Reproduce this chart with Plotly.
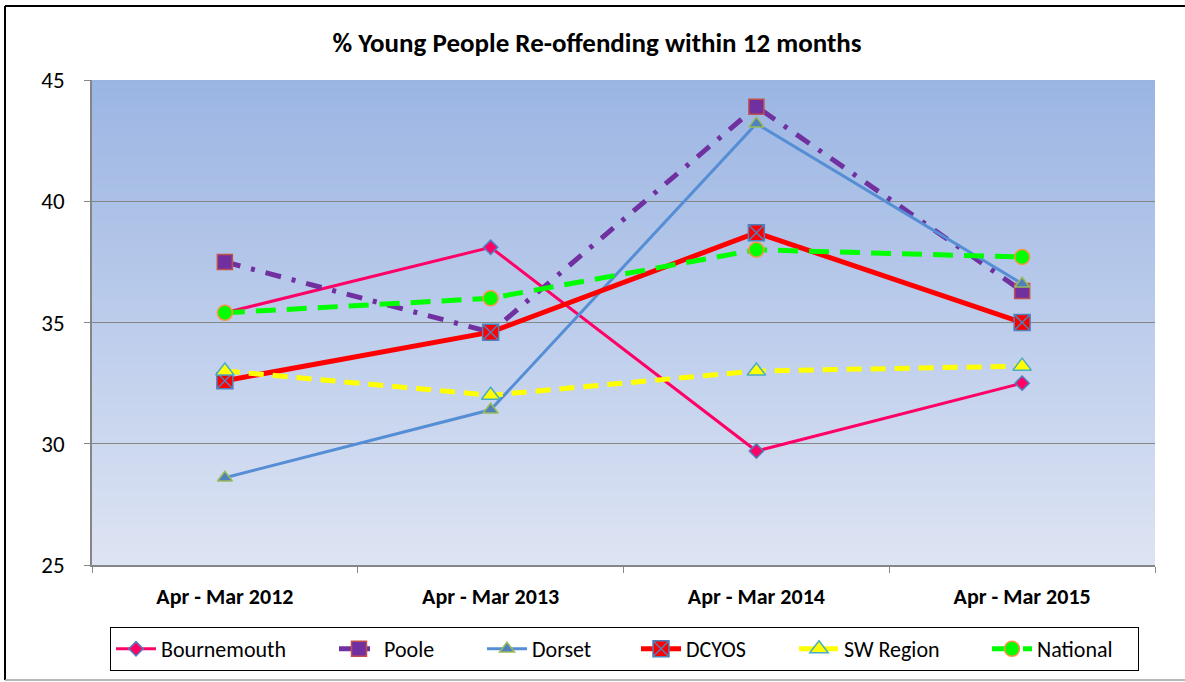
import plotly.graph_objects as go

categories = ["Apr - Mar 2012", "Apr - Mar 2013", "Apr - Mar 2014", "Apr - Mar 2015"]
bournemouth = [35.4, 38.1, 29.7, 32.5]
poole = [37.5, 34.6, 43.9, 36.3]
dorset = [28.6, 31.4, 43.2, 36.6]
dcyos = [32.6, 34.6, 38.7, 35.0]
sw_region = [33.0, 32.0, 33.0, 33.2]
national = [35.4, 36.0, 38.0, 37.7]

W, H = 1185, 682
L, R, T, B = 92, 30, 80, 117
pw, ph = W - L - R, H - T - B

def px_x(x):
    return (x - L) / pw

def px_y(y):
    return (H - B - y) / ph

fig = go.Figure()

series = [
    dict(name="Bournemouth", y=bournemouth, color="#FF0066", width=3, dash="solid",
         symbol="diamond", msize=11, mfill="#FF0066", mline="#4F81BD", lw=168),
    dict(name="Poole", y=poole, color="#7030A0", width=5, dash="16px,11px,4px,11px",
         symbol="square", msize=15, mfill="#7030A0", mline="#C0504D", lw=93),
    dict(name="Dorset", y=dorset, color="#558ED5", width=3, dash="solid",
         symbol="triangle-up", msize=13, mfill="#4F81BD", mline="#9BBB59", lw=99),
    dict(name="DCYOS", y=dcyos, color="#FF0000", width=5, dash="solid",
         symbol="square-x", msize=16, mfill="#FF0000", mline="#4F81BD", lw=103),
    dict(name="SW Region", y=sw_region, color="#FFFF00", width=5, dash="15px,9px",
         symbol="triangle-up", msize=16, mfill="#FFFF00", mline="#4BACC6", lw=138),
    dict(name="National", y=national, color="#00FF00", width=5, dash="20px,11px",
         symbol="circle", msize=15, mfill="#00FF00", mline="#F79646", lw=96),
]

for s in series:
    fig.add_trace(go.Scatter(
        x=categories, y=s["y"], name=s["name"], mode="lines+markers",
        line=dict(color=s["color"], width=s["width"], dash=s["dash"]),
        marker=dict(symbol=s["symbol"], size=s["msize"], color=s["mfill"],
                    line=dict(color=s["mline"], width=1.5)),
        legendwidth=s["lw"],
    ))

# gradient background for the plot area
shapes = []
n = 120
top = (155, 181, 227)
bot = (221, 228, 243)
for i in range(n):
    t = i / (n - 1)
    c = tuple(round(top[k] + (bot[k] - top[k]) * t) for k in range(3))
    shapes.append(dict(type="rect", xref="x domain", yref="y domain",
                       x0=0, x1=1, y0=max(0, 1 - (i + 2) / n), y1=1 - i / n,
                       fillcolor="rgb(%d,%d,%d)" % c, line=dict(width=0),
                       layer="below"))

# outer chart border
shapes.append(dict(type="line", xref="paper", yref="paper",
                   x0=px_x(5), x1=px_x(5), y0=px_y(6), y1=px_y(680),
                   line=dict(color="#000000", width=2)))
shapes.append(dict(type="line", xref="paper", yref="paper",
                   x0=px_x(5), x1=px_x(1185), y0=px_y(6), y1=px_y(6),
                   line=dict(color="#000000", width=2)))
shapes.append(dict(type="line", xref="paper", yref="paper",
                   x0=px_x(5), x1=px_x(1185), y0=px_y(680), y1=px_y(680),
                   line=dict(color="#A0A0A0", width=1.5)))

font_fam = "Carlito, Calibri, 'Open Sans', sans-serif"

fig.update_layout(
    width=W, height=H,
    margin=dict(l=L, r=R, t=T, b=B, autoexpand=False),
    paper_bgcolor="white",
    plot_bgcolor="rgba(0,0,0,0)",
    shapes=shapes,
    title=dict(text="<b>% Young People Re-offending within 12 months</b>",
               xref="container", x=597 / W, xanchor="center",
               yref="container", y=1 - 43 / H, yanchor="middle",
               font=dict(family=font_fam, size=27, color="#000000")),
    font=dict(family=font_fam, color="#000000"),
    showlegend=True,
    legend=dict(orientation="h", x=px_x(624.5), xanchor="center",
                y=px_y(627), yanchor="top",
                bordercolor="#000000", borderwidth=1, bgcolor="white",
                font=dict(size=22, family=font_fam),
                entrywidthmode="pixels",
                itemwidth=40),
    xaxis=dict(
        type="category", range=[-0.5, 3.5],
        showgrid=False, showline=True, linecolor="#868686", linewidth=1.5,
        ticks="outside", tickson="boundaries", ticklen=6, tickcolor="#868686",
        ticklabelstandoff=11,
        tickfont=dict(size=22, family=font_fam, weight="bold"),
        fixedrange=True,
    ),
    yaxis=dict(
        range=[25, 45], dtick=5, tick0=25,
        showgrid=True, gridcolor="#868686", gridwidth=1,
        showline=True, linecolor="#868686", linewidth=1.5,
        ticks="outside", ticklen=6, tickcolor="#868686",
        ticklabelstandoff=15,
        tickfont=dict(size=23, family=font_fam),
        zeroline=False, fixedrange=True,
    ),
)

fig.write_html(
    "out.html",
    config={"displayModeBar": False},
    post_script="document.body.style.margin='0';document.documentElement.style.overflow='hidden';",
)
